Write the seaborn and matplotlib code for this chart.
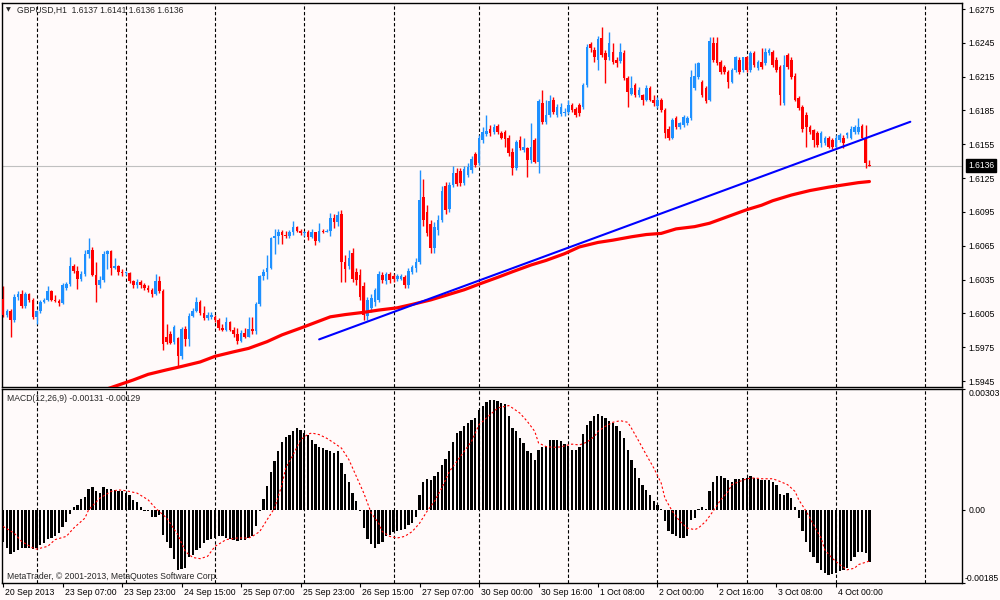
import numpy as np
import pandas as pd
import matplotlib
matplotlib.use("Agg")
import matplotlib.pyplot as plt
import matplotlib.transforms as mtransforms
import seaborn as sns

# GBPUSD H1 candles, 20 Sep 2013 15:00 .. 4 Oct 2013 09:00
opens = [
    1.6018, 1.6004, 1.6007, 1.5999, 1.6020, 1.6022, 1.6012, 1.6022, 1.6017, 1.6002,
    1.6007, 1.6015, 1.6017, 1.6025, 1.6017, 1.6016, 1.6014, 1.6028, 1.6031, 1.6047,
    1.6043, 1.6036, 1.6040, 1.6058, 1.6061, 1.6039, 1.6030, 1.6035, 1.6058, 1.6060,
    1.6045, 1.6047, 1.6042, 1.6041, 1.6041, 1.6034, 1.6030, 1.6033, 1.6030, 1.6028,
    1.6026, 1.6022, 1.6034, 1.6025, 1.5984, 1.5987, 1.5980, 1.5983, 1.5967, 1.5991,
    1.5982, 1.6003, 1.6007, 1.6015, 1.6005, 1.6001, 1.6002, 1.6002, 1.5999, 1.5992,
    1.5990, 1.5997, 1.5990, 1.5987, 1.5981, 1.5988, 1.5984, 1.5991, 1.5989, 1.6013,
    1.6038, 1.6042, 1.6045, 1.6072, 1.6074, 1.6077, 1.6075, 1.6074, 1.6077, 1.6082,
    1.6078, 1.6076, 1.6077, 1.6073, 1.6077, 1.6069, 1.6078, 1.6077,
    1.6078, 1.6090, 1.6086, 1.6093, 1.6051, 1.6047, 1.6059, 1.6042, 1.6039, 1.6029,
    1.6003, 1.6010, 1.6015, 1.6017, 1.6039, 1.6034, 1.6040, 1.6038, 1.6036, 1.6036,
    1.6037, 1.6030, 1.6042, 1.6045, 1.6051, 1.6108, 1.6095, 1.6084, 1.6063, 1.6079,
    1.6088, 1.6118, 1.6098, 1.6119, 1.6130, 1.6131, 1.6121, 1.6128, 1.6132, 1.6146,
    1.6138, 1.6159, 1.6164, 1.6169, 1.6166, 1.6171, 1.6165, 1.6166, 1.6161, 1.6148,
    1.6134, 1.6159, 1.6150, 1.6152, 1.6141, 1.6159, 1.6139, 1.6192, 1.6175, 1.6181,
    1.6194, 1.6181, 1.6182, 1.6183, 1.6184, 1.6190, 1.6186, 1.6190, 1.6188, 1.6208,
    1.6244, 1.6239, 1.6230, 1.6249, 1.6236, 1.6232, 1.6237, 1.6230, 1.6229, 1.6236,
    1.6214, 1.6200, 1.6208, 1.6199, 1.6199, 1.6194, 1.6205, 1.6194, 1.6189,
    1.6194, 1.6185, 1.6169, 1.6161, 1.6178, 1.6170, 1.6172, 1.6174, 1.6178, 1.6205,
    1.6215, 1.6210, 1.6205, 1.6194, 1.6245, 1.6245, 1.6228, 1.6224, 1.6219, 1.6210,
    1.6221, 1.6230, 1.6221, 1.6232, 1.6221, 1.6236, 1.6223, 1.6228, 1.6227, 1.6236,
    1.6237, 1.6230, 1.6224, 1.6192, 1.6234, 1.6230, 1.6216, 1.6196, 1.6188, 1.6181,
    1.6170, 1.6168, 1.6165, 1.6156, 1.6156, 1.6161, 1.6159, 1.6153, 1.6159, 1.6161,
    1.6163, 1.6161, 1.6166, 1.6166, 1.6171, 1.6161, 1.6137,
]
highs = [
    1.6029, 1.6009, 1.6009, 1.6022, 1.6025, 1.6026, 1.6024, 1.6023, 1.6019, 1.6008,
    1.6017, 1.6019, 1.6029, 1.6026, 1.6021, 1.6018, 1.6032, 1.6033, 1.6055, 1.6049,
    1.6047, 1.6043, 1.6061, 1.6072, 1.6064, 1.6051, 1.6038, 1.6060, 1.6061, 1.6061,
    1.6054, 1.6048, 1.6044, 1.6043, 1.6042, 1.6035, 1.6036, 1.6035, 1.6032, 1.6030,
    1.6028, 1.6040, 1.6038, 1.6027, 1.5996, 1.5989, 1.5995, 1.5984, 1.5993, 1.5994,
    1.6005, 1.6010, 1.6020, 1.6017, 1.6012, 1.6006, 1.6006, 1.6004, 1.6001, 1.5996,
    1.6002, 1.5998, 1.5993, 1.5992, 1.5990, 1.5992, 1.6002, 1.6002, 1.6015, 1.6039,
    1.6044, 1.6057, 1.6073, 1.6080, 1.6080, 1.6079, 1.6078, 1.6079, 1.6087, 1.6083,
    1.6080, 1.6078, 1.6079, 1.6080, 1.6077, 1.6085, 1.6080, 1.6080,
    1.6094, 1.6093, 1.6096, 1.6097, 1.6057, 1.6061, 1.6063, 1.6045, 1.6044, 1.6033,
    1.6020, 1.6022, 1.6028, 1.6043, 1.6042, 1.6042, 1.6042, 1.6040, 1.6040, 1.6040,
    1.6039, 1.6045, 1.6048, 1.6054, 1.6132, 1.6124, 1.6101, 1.6088, 1.6086, 1.6092,
    1.6118, 1.6122, 1.6122, 1.6136, 1.6134, 1.6134, 1.6136, 1.6138, 1.6145, 1.6148,
    1.6163, 1.6170, 1.6181, 1.6172, 1.6173, 1.6173, 1.6167, 1.6168, 1.6163, 1.6152,
    1.6159, 1.6162, 1.6161, 1.6153, 1.6174, 1.6161, 1.6195, 1.6203, 1.6194, 1.6199,
    1.6197, 1.6191, 1.6192, 1.6187, 1.6194, 1.6192, 1.6188, 1.6192, 1.6209, 1.6244,
    1.6246, 1.6241, 1.6251, 1.6259, 1.6239, 1.6255, 1.6245, 1.6232, 1.6245, 1.6239,
    1.6216, 1.6216, 1.6209, 1.6206, 1.6200, 1.6208, 1.6207, 1.6199, 1.6197,
    1.6196, 1.6187, 1.6171, 1.6178, 1.6180, 1.6175, 1.6181, 1.6180, 1.6221, 1.6227,
    1.6228, 1.6212, 1.6207, 1.6250, 1.6250, 1.6250, 1.6230, 1.6225, 1.6221, 1.6223,
    1.6233, 1.6232, 1.6232, 1.6233, 1.6238, 1.6238, 1.6230, 1.6240, 1.6240, 1.6240,
    1.6239, 1.6232, 1.6225, 1.6234, 1.6236, 1.6232, 1.6218, 1.6198, 1.6190, 1.6184,
    1.6172, 1.6169, 1.6167, 1.6167, 1.6162, 1.6162, 1.6161, 1.6163, 1.6165, 1.6163,
    1.6166, 1.6171, 1.6172, 1.6178, 1.6173, 1.6172, 1.6141,
]
lows = [
    1.6002, 1.6002, 1.5984, 1.5997, 1.6017, 1.6010, 1.6010, 1.6015, 1.6000, 1.5996,
    1.6005, 1.6014, 1.6016, 1.6016, 1.6015, 1.6012, 1.6013, 1.6026, 1.6029, 1.6041,
    1.6027, 1.6034, 1.6038, 1.6054, 1.6038, 1.6015, 1.6028, 1.6033, 1.6044, 1.6039,
    1.6044, 1.6039, 1.6038, 1.6039, 1.6032, 1.6028, 1.6028, 1.6028, 1.6026, 1.6024,
    1.6020, 1.6021, 1.6023, 1.5973, 1.5978, 1.5978, 1.5978, 1.5958, 1.5965, 1.5976,
    1.5976, 1.6002, 1.6006, 1.6004, 1.5999, 1.5999, 1.6000, 1.5997, 1.5990, 1.5989,
    1.5989, 1.5989, 1.5984, 1.5978, 1.5980, 1.5983, 1.5984, 1.5987, 1.5987, 1.6012,
    1.6035, 1.6036, 1.6044, 1.6058, 1.6067, 1.6067, 1.6072, 1.6072, 1.6075, 1.6077,
    1.6075, 1.6074, 1.6070, 1.6072, 1.6066, 1.6068, 1.6076, 1.6077,
    1.6074, 1.6081, 1.6083, 1.6033, 1.6033, 1.6044, 1.6033, 1.6030, 1.6017, 1.5999,
    1.5999, 1.6006, 1.6012, 1.6015, 1.6032, 1.6031, 1.6032, 1.6033, 1.6034, 1.6035,
    1.6028, 1.6028, 1.6040, 1.6042, 1.6049, 1.6083, 1.6074, 1.6059, 1.6059, 1.6075,
    1.6086, 1.6093, 1.6095, 1.6117, 1.6118, 1.6118, 1.6119, 1.6126, 1.6130, 1.6135,
    1.6137, 1.6156, 1.6162, 1.6162, 1.6164, 1.6164, 1.6160, 1.6153, 1.6145, 1.6128,
    1.6132, 1.6150, 1.6148, 1.6126, 1.6138, 1.6138, 1.6130, 1.6173, 1.6173, 1.6179,
    1.6182, 1.6179, 1.6180, 1.6180, 1.6182, 1.6184, 1.6179, 1.6180, 1.6186, 1.6206,
    1.6237, 1.6228, 1.6221, 1.6232, 1.6209, 1.6230, 1.6226, 1.6224, 1.6227, 1.6212,
    1.6188, 1.6199, 1.6197, 1.6197, 1.6190, 1.6193, 1.6193, 1.6189, 1.6187,
    1.6184, 1.6161, 1.6159, 1.6160, 1.6169, 1.6169, 1.6170, 1.6172, 1.6177, 1.6203,
    1.6213, 1.6197, 1.6192, 1.6193, 1.6228, 1.6225, 1.6217, 1.6217, 1.6205, 1.6209,
    1.6219, 1.6217, 1.6219, 1.6219, 1.6219, 1.6224, 1.6221, 1.6222, 1.6225, 1.6234,
    1.6224, 1.6219, 1.6190, 1.6190, 1.6222, 1.6213, 1.6193, 1.6185, 1.6166, 1.6153,
    1.6164, 1.6153, 1.6153, 1.6153, 1.6154, 1.6152, 1.6151, 1.6151, 1.6157, 1.6152,
    1.6161, 1.6160, 1.6164, 1.6164, 1.6160, 1.6134, 1.6136,
]
closes = [
    1.6004, 1.6007, 1.5999, 1.6020, 1.6022, 1.6012, 1.6022, 1.6017, 1.6002, 1.6007,
    1.6015, 1.6017, 1.6025, 1.6017, 1.6016, 1.6014, 1.6030, 1.6031, 1.6047, 1.6043,
    1.6036, 1.6040, 1.6058, 1.6061, 1.6039, 1.6030, 1.6035, 1.6058, 1.6060, 1.6045,
    1.6047, 1.6042, 1.6041, 1.6042, 1.6034, 1.6030, 1.6033, 1.6030, 1.6028, 1.6026,
    1.6022, 1.6034, 1.6025, 1.5978, 1.5980, 1.5979, 1.5993, 1.5967, 1.5991, 1.5982,
    1.6003, 1.6007, 1.6015, 1.6005, 1.6001, 1.6004, 1.6004, 1.5999, 1.5992, 1.5990,
    1.5997, 1.5990, 1.5987, 1.5981, 1.5988, 1.5984, 1.5991, 1.5989, 1.6013, 1.6038,
    1.6042, 1.6045, 1.6072, 1.6074, 1.6077, 1.6075, 1.6074, 1.6077, 1.6082, 1.6078,
    1.6076, 1.6077, 1.6073, 1.6077, 1.6069, 1.6078, 1.6077, 1.6078,
    1.6090, 1.6086, 1.6092, 1.6051, 1.6044, 1.6054, 1.6036, 1.6035, 1.6020, 1.6004,
    1.6017, 1.6019, 1.6026, 1.6040, 1.6035, 1.6040, 1.6035, 1.6036, 1.6038, 1.6038,
    1.6030, 1.6043, 1.6046, 1.6051, 1.6106, 1.6088, 1.6076, 1.6063, 1.6082, 1.6088,
    1.6114, 1.6097, 1.6119, 1.6130, 1.6120, 1.6121, 1.6133, 1.6135, 1.6142, 1.6137,
    1.6161, 1.6166, 1.6167, 1.6165, 1.6170, 1.6166, 1.6161, 1.6160, 1.6147, 1.6134,
    1.6157, 1.6152, 1.6153, 1.6141, 1.6153, 1.6139, 1.6193, 1.6175, 1.6181, 1.6193,
    1.6184, 1.6188, 1.6188, 1.6184, 1.6190, 1.6185, 1.6181, 1.6183, 1.6208, 1.6241,
    1.6240, 1.6232, 1.6248, 1.6234, 1.6230, 1.6245, 1.6228, 1.6227, 1.6237, 1.6214,
    1.6201, 1.6205, 1.6199, 1.6203, 1.6194, 1.6205, 1.6194, 1.6192, 1.6194,
    1.6185, 1.6165, 1.6161, 1.6177, 1.6170, 1.6174, 1.6179, 1.6178, 1.6215, 1.6216,
    1.6227, 1.6199, 1.6193, 1.6247, 1.6230, 1.6227, 1.6219, 1.6219, 1.6210, 1.6221,
    1.6232, 1.6219, 1.6232, 1.6221, 1.6236, 1.6225, 1.6228, 1.6224, 1.6237, 1.6239,
    1.6225, 1.6221, 1.6199, 1.6225, 1.6224, 1.6215, 1.6194, 1.6187, 1.6169, 1.6170,
    1.6166, 1.6159, 1.6154, 1.6165, 1.6161, 1.6153, 1.6153, 1.6161, 1.6163, 1.6156,
    1.6165, 1.6169, 1.6170, 1.6170, 1.6161, 1.6138, 1.6136,
]

# MACD(12,26,9) main line, drawn as histogram
macd = [
    -0.00080, -0.00096, -0.00111, -0.00105, -0.00101, -0.00096, -0.00096, -0.00096, -0.00098, -0.00096,
    -0.00088, -0.00084, -0.00073, -0.00070, -0.00067, -0.00059, -0.00044, -0.00031, -0.00011, 0.00006,
    0.00013, 0.00028, 0.00032, 0.00053, 0.00057, 0.00046, 0.00042, 0.00057, 0.00052, 0.00052,
    0.00050, 0.00048, 0.00046, 0.00042, 0.00038, 0.00025, 0.00019, 0.00006, -0.00003, -0.00004,
    -0.00018, -0.00019, -0.00014, -0.00063, -0.00080, -0.00096, -0.00123, -0.00151, -0.00149, -0.00147,
    -0.00120, -0.00115, -0.00102, -0.00096, -0.00084, -0.00075, -0.00073, -0.00071, -0.00067, -0.00067,
    -0.00071, -0.00073, -0.00076, -0.00078, -0.00075, -0.00075, -0.00071, -0.00067, -0.00042, -0.00004,
    0.00028, 0.00059, 0.00095, 0.00123, 0.00149, 0.00170, 0.00184, 0.00189, 0.00197, 0.00205,
    0.00201, 0.00193, 0.00189, 0.00176, 0.00165, 0.00159, 0.00155, 0.00151, 0.00147, 0.00142,
    0.00148, 0.00117, 0.00090, 0.00070, 0.00042, 0.00023, -0.00004, -0.00046, -0.00073, -0.00086,
    -0.00095, -0.00085, -0.00080, -0.00067, -0.00063, -0.00056, -0.00053, -0.00050, -0.00049, -0.00038,
    -0.00034, -0.00019, 0.00038, 0.00070, 0.00078, 0.00075, 0.00084, 0.00095, 0.00113, 0.00128,
    0.00148, 0.00170, 0.00193, 0.00197, 0.00210, 0.00218, 0.00226, 0.00231, 0.00251, 0.00262,
    0.00272, 0.00277, 0.00277, 0.00274, 0.00268, 0.00266, 0.00235, 0.00205, 0.00197, 0.00180,
    0.00168, 0.00147, 0.00142, 0.00126, 0.00151, 0.00157, 0.00161, 0.00176, 0.00176, 0.00176,
    0.00172, 0.00165, 0.00161, 0.00151, 0.00151, 0.00159, 0.00190, 0.00212, 0.00224, 0.00237,
    0.00241, 0.00235, 0.00231, 0.00222, 0.00218, 0.00210, 0.00197, 0.00180, 0.00151, 0.00126,
    0.00105, 0.00080, 0.00063, 0.00050, 0.00038, 0.00023, 0.00013, 0.00003, -0.00028, -0.00054,
    -0.00061, -0.00067, -0.00071, -0.00071, -0.00067, -0.00025, -0.00021, 0.00003, 0.00006, 0.00003,
    0.00046, 0.00071, 0.00084, 0.00085, 0.00080, 0.00075, 0.00071, 0.00078, 0.00078, 0.00080,
    0.00081, 0.00084, 0.00080, 0.00078, 0.00075, 0.00075, 0.00074, 0.00071, 0.00063, 0.00039,
    0.00038, 0.00042, 0.00029, 0.00006, -0.00021, -0.00054, -0.00080, -0.00105, -0.00120, -0.00134,
    -0.00151, -0.00159, -0.00163, -0.00162, -0.00159, -0.00155, -0.00151, -0.00147, -0.00130, -0.00120,
    -0.00106, -0.00105, -0.00109, -0.00131,
]
# signal line, read at these bars
signal_bars = [
    0, 3, 5, 8, 9, 12, 14, 17, 19, 22, 23, 26, 29, 31, 33, 36, 39, 41, 44, 47,
    49, 51, 53, 55, 57, 60, 63, 66, 67, 69, 71, 73, 75, 76, 78, 80, 82, 83, 85, 87,
    89, 91, 93, 95, 97, 99, 101, 102, 104, 106, 108, 110, 112, 114, 116, 118, 120, 123, 126, 128,
    131, 133, 136, 137, 139, 141, 143, 144, 146, 148, 150, 152, 153, 155, 157, 159, 160, 162, 164, 166,
    168, 169, 171, 173, 175, 177, 178, 180, 182, 184, 186, 187, 189, 191, 193, 195, 196, 198, 200, 202,
    204, 205, 207, 209, 211, 213, 214, 216, 218, 220, 221, 223, 225, 227, 229, 230, 232, 233,
]
signal_vals = [
    -0.00042, -0.00059, -0.00080, -0.00096, -0.00099, -0.00092, -0.00075, -0.00067, -0.00046, -0.00021,
    0.00000, 0.00029, 0.00046, 0.00050, 0.00048, 0.00042, 0.00025, 0.00004, -0.00021, -0.00063,
    -0.00105, -0.00120, -0.00123, -0.00117, -0.00092, -0.00075, -0.00071, -0.00071, -0.00067, -0.00055,
    -0.00025, 0.00004, 0.00063, 0.00105, 0.00138, 0.00176, 0.00190, 0.00193, 0.00189, 0.00180,
    0.00168, 0.00155, 0.00126, 0.00084, 0.00042, -0.00008, -0.00034, -0.00055, -0.00067, -0.00071,
    -0.00067, -0.00055, -0.00034, -0.00004, 0.00021, 0.00055, 0.00096, 0.00134, 0.00172, 0.00214,
    0.00239, 0.00256, 0.00262, 0.00256, 0.00243, 0.00222, 0.00197, 0.00168, 0.00159, 0.00157,
    0.00158, 0.00163, 0.00165, 0.00163, 0.00170, 0.00184, 0.00197, 0.00210, 0.00220, 0.00224,
    0.00220, 0.00205, 0.00172, 0.00138, 0.00105, 0.00067, 0.00029, -0.00004, -0.00029, -0.00046,
    -0.00050, -0.00046, -0.00029, -0.00003, 0.00025, 0.00046, 0.00063, 0.00071, 0.00078, 0.00080,
    0.00078, 0.00078, 0.00078, 0.00071, 0.00063, 0.00046, 0.00025, -0.00004, -0.00038, -0.00071,
    -0.00101, -0.00122, -0.00138, -0.00151, -0.00147, -0.00138, -0.00132, -0.00129,
]

# thick red moving average, read at these bars
ma_bars = [27, 35, 39, 44, 48, 53, 57, 62, 66, 71,
           75, 80, 84, 88, 92, 97, 101, 106, 110, 115,
           119, 124, 128, 133, 137, 142, 146, 151, 155, 160,
           164, 169, 173, 177, 181, 186, 190, 195, 200, 204,
           207, 212, 217, 222, 226, 230, 233]
ma_vals = [1.5937, 1.5946, 1.5951, 1.5955, 1.5958, 1.5962, 1.5967, 1.5971, 1.5974, 1.5980,
           1.5986, 1.5992, 1.5997, 1.6002, 1.6004, 1.6006, 1.6008, 1.6010, 1.6013, 1.6017,
           1.6021, 1.6026, 1.6031, 1.6037, 1.6042, 1.6048, 1.6052, 1.6058, 1.6064, 1.6068,
           1.6070, 1.6073, 1.6075, 1.6076, 1.6080, 1.6082, 1.6085, 1.6091, 1.6097, 1.6101,
           1.6105, 1.6110, 1.6114, 1.6117, 1.6119, 1.6121, 1.6122]

# blue trend line end points
trend_bars = [85, 244]
trend_vals = [1.5982, 1.6175]

# trading hours per day (first and last hourly bar)
sessions = [("2013-09-20", 15, 23), ("2013-09-23", 0, 23), ("2013-09-24", 0, 23),
            ("2013-09-25", 0, 23), ("2013-09-26", 0, 23), ("2013-09-27", 0, 22),
            ("2013-09-30", 0, 23), ("2013-10-01", 0, 23), ("2013-10-02", 0, 23),
            ("2013-10-03", 0, 23), ("2013-10-04", 0, 9)]

price_ticks = [1.5945, 1.5975, 1.6005, 1.6035, 1.6065, 1.6095,
               1.6125, 1.6155, 1.6185, 1.6215, 1.6245, 1.6275]
macd_ticks = [-0.00185, 0.0, 0.00303]
macd_tick_labels = ["-0.00185", "0.00", "0.00303"]

# bar times -> index, day separators and date labels
times = []
for day, h0, h1 in sessions:
    for hr in range(h0, h1 + 1):
        times.append(pd.Timestamp(day) + pd.Timedelta(hours=hr))
times = pd.Series(times)
idx = np.arange(len(times))
day_starts = list(idx[times.dt.hour.values == 0])
day_starts.append(day_starts[-1] + 24)
label_pos = idx[::16]
date_labels = []
for k, p in enumerate(label_pos):
    t = times[p]
    date_labels.append(f"{t.day} {t:%b} {t.year}" if k == 0 else f"{t.day} {t:%b %H:%M}")

# ---- figure ----
sns.set_style("white")
plt.rcParams["font.family"] = ["Liberation Sans", "DejaVu Sans"]
bg = "#FFFAFA"
fs = 6.2

fig = plt.figure(figsize=(10, 6), dpi=100, facecolor=bg)
ax1 = fig.add_axes([0.002, 0.3558, 0.960, 0.6397])
ax2 = fig.add_axes([0.002, 0.0278, 0.960, 0.3234])

for ax in (ax1, ax2):
    ax.set_facecolor(bg)
    for b in day_starts:
        ax.axvline(b, color="black", lw=0.8, ls=(0, (3, 2)), zorder=1)

# candles
o = np.array(opens)
c = np.array(closes)
up = c >= o
cols = np.where(up, "#1E90FF", "#FF0000")
ax1.vlines(idx, lows, highs, colors=cols, linewidth=1.0, zorder=2)
ax1.bar(idx, np.maximum(np.abs(c - o), 0.00003), bottom=np.minimum(o, c),
        width=0.7, color=cols, linewidth=0, zorder=3)

ax1.axhline(closes[-1], color="#C0C0C0", lw=0.8, zorder=1)
sns.lineplot(x=ma_bars, y=ma_vals, color="#FF0000", linewidth=2.3, ax=ax1, zorder=4)
sns.lineplot(x=trend_bars, y=trend_vals, color="#0000FF", linewidth=1.5, ax=ax1, zorder=5)

# MACD window
sns.barplot(x=idx, y=macd, native_scale=True, color="black", saturation=1,
            width=0.62, linewidth=0, errorbar=None, ax=ax2, zorder=2)
sns.lineplot(x=signal_bars, y=signal_vals, color="#FF0000", linewidth=0.8,
             linestyle=(0, (2, 2)), ax=ax2, zorder=3)

for ax in (ax1, ax2):
    ax.set_xlim(-0.3, 257.9)
    ax.set_xlabel("")
    ax.set_ylabel("")
    ax.yaxis.tick_right()
    for sp in ax.spines.values():
        sp.set_color("black")
        sp.set_linewidth(1)
    ax.tick_params(axis="y", right=True, length=2.5, width=0.8, pad=2,
                   labelsize=fs, colors="black")

ax1.set_ylim(1.59402, 1.62806)
ax1.set_yticks(price_ticks, [f"{v:.4f}" for v in price_ticks])
ax1.set_xticks([])

ax2.set_ylim(-0.00185, 0.00303)
ax2.set_yticks(macd_ticks, macd_tick_labels)
ylabs = ax2.get_yticklabels()
ylabs[0].set_verticalalignment("bottom")
ylabs[2].set_verticalalignment("top")
ylabs[0].set_transform(ylabs[0].get_transform()
                       + mtransforms.ScaledTranslation(-4 / 100, 0, fig.dpi_scale_trans))

ax2.set_xticks(label_pos, date_labels, ha="left")
ax2.tick_params(axis="x", bottom=True, length=3, width=0.8, pad=0.5,
                labelsize=fs, colors="black")
shift = mtransforms.ScaledTranslation(2 / 100, 0, fig.dpi_scale_trans)
for lab in ax2.get_xticklabels():
    lab.set_transform(lab.get_transform() + shift)

# texts
ax1.annotate("\u25bc", xy=(0, 1), xycoords="axes fraction", xytext=(4, -7.5),
             textcoords="offset pixels", fontsize=4.5, va="center", ha="left",
             family=["DejaVu Sans"])
ax1.annotate(f"GBPUSD,H1  {opens[-1]:.4f} {highs[-1]:.4f} {lows[-1]:.4f} {closes[-1]:.4f}",
             xy=(0, 1), xycoords="axes fraction", xytext=(15, -7.5),
             textcoords="offset pixels", fontsize=fs, va="center", ha="left")
ax2.annotate(f"MACD(12,26,9) {macd[-1]:.5f} {signal_vals[-1]:.5f}",
             xy=(0, 1), xycoords="axes fraction", xytext=(5, -9),
             textcoords="offset pixels", fontsize=fs, va="center", ha="left")
ax2.annotate("MetaTrader, \u00a9 2001-2013, MetaQuotes Software Corp.",
             xy=(0, 0), xycoords="axes fraction", xytext=(5, 6.5),
             textcoords="offset pixels", fontsize=fs, va="center", ha="left")

tr = mtransforms.blended_transform_factory(ax1.transAxes, ax1.transData)
ax1.annotate(f"{closes[-1]:.4f}", xy=(1, closes[-1]), xycoords=tr, xytext=(6, 0),
             textcoords="offset pixels", fontsize=fs, va="center", ha="left",
             color="white", annotation_clip=False,
             bbox=dict(boxstyle="square,pad=0.25", facecolor="black", edgecolor="black"))

fig.savefig("out.png", dpi=100, facecolor=bg)
